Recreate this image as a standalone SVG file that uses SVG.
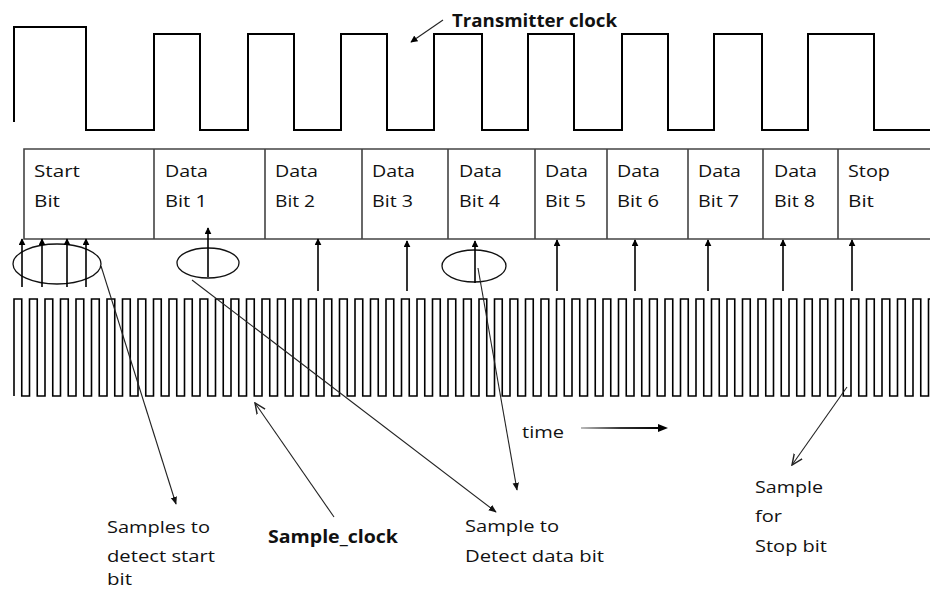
<svg xmlns="http://www.w3.org/2000/svg" width="930" height="591" viewBox="0 0 930 591">
<defs>
<style>
.wave{fill:none;stroke:#000;stroke-width:2;stroke-linejoin:miter}
.sclk{fill:none;stroke:#000;stroke-width:1.6}
.cell{fill:none;stroke:#444;stroke-width:1.6}
.t{font-family:"Open Sans","Liberation Sans",sans-serif;font-size:17px;fill:#111}
.b{font-weight:bold}
.up{stroke:#000;stroke-width:1.6;fill:none}
.ell{fill:none;stroke:#111;stroke-width:1.3}
.thin{stroke:#222;stroke-width:1.1;fill:none}
</style>
<marker id="fa" viewBox="0 0 10 10" refX="9" refY="5" markerWidth="7" markerHeight="7" markerUnits="userSpaceOnUse" orient="auto">
<path d="M0,0 L10,5 L0,10 z" fill="#000"/>
</marker>
<marker id="fs" viewBox="0 0 10 10" refX="9" refY="5" markerWidth="8" markerHeight="8" markerUnits="userSpaceOnUse" orient="auto">
<path d="M0,1 L10,5 L0,9 z" fill="#111"/>
</marker>
<marker id="oa" viewBox="0 0 10 10" refX="9" refY="5" markerWidth="12" markerHeight="12" markerUnits="userSpaceOnUse" orient="auto">
<path d="M0,1 L9,5 L0,9" fill="none" stroke="#222" stroke-width="1.2"/>
</marker>
<linearGradient id="tg" gradientUnits="userSpaceOnUse" x1="581" y1="0" x2="660" y2="0">
<stop offset="0" stop-color="#bbb"/>
<stop offset="0.5" stop-color="#333"/>
<stop offset="1" stop-color="#000"/>
</linearGradient>
</defs>
<rect width="930" height="591" fill="#fff"/>

<g id="transmitter-clock">
<path class="wave" d="M14,122 V27 H86 V130 H154 V34 H200 V130 H248 V34 H294 V130 H341 V34 H387 V130 H434 V34 H482 V130 H528 V34 H574 V130 H622 V34 H668 V130 H714 V34 H762 V130 H808 V34 H874 V130 H932"/>
<text class="t b" x="452" y="27" textLength="165" lengthAdjust="spacingAndGlyphs">Transmitter clock</text>
</g>

<g id="frame">
<path class="cell" d="M932,149 H24 V239 H932 M154,149 V239 M265,149 V239 M362,149 V239 M448,149 V239 M535,149 V239 M607,149 V239 M688,149 V239 M763,149 V239 M838,149 V239"/>
<g id="cell-start"><text class="t" x="34" y="177" textLength="46" lengthAdjust="spacingAndGlyphs">Start</text><text class="t" x="34" y="207" textLength="26" lengthAdjust="spacingAndGlyphs">Bit</text></g>
<g id="cell-d1"><text class="t" x="165" y="177" textLength="43" lengthAdjust="spacingAndGlyphs">Data</text><text class="t" x="165" y="207" textLength="42" lengthAdjust="spacingAndGlyphs">Bit 1</text></g>
<g id="cell-d2"><text class="t" x="275" y="177" textLength="43" lengthAdjust="spacingAndGlyphs">Data</text><text class="t" x="275" y="207" textLength="40" lengthAdjust="spacingAndGlyphs">Bit 2</text></g>
<g id="cell-d3"><text class="t" x="372" y="177" textLength="43" lengthAdjust="spacingAndGlyphs">Data</text><text class="t" x="372" y="207" textLength="41" lengthAdjust="spacingAndGlyphs">Bit 3</text></g>
<g id="cell-d4"><text class="t" x="459" y="177" textLength="43" lengthAdjust="spacingAndGlyphs">Data</text><text class="t" x="459" y="207" textLength="41" lengthAdjust="spacingAndGlyphs">Bit 4</text></g>
<g id="cell-d5"><text class="t" x="545" y="177" textLength="43" lengthAdjust="spacingAndGlyphs">Data</text><text class="t" x="545" y="207" textLength="41" lengthAdjust="spacingAndGlyphs">Bit 5</text></g>
<g id="cell-d6"><text class="t" x="617" y="177" textLength="43" lengthAdjust="spacingAndGlyphs">Data</text><text class="t" x="617" y="207" textLength="42" lengthAdjust="spacingAndGlyphs">Bit 6</text></g>
<g id="cell-d7"><text class="t" x="698" y="177" textLength="43" lengthAdjust="spacingAndGlyphs">Data</text><text class="t" x="698" y="207" textLength="41" lengthAdjust="spacingAndGlyphs">Bit 7</text></g>
<g id="cell-d8"><text class="t" x="774" y="177" textLength="43" lengthAdjust="spacingAndGlyphs">Data</text><text class="t" x="774" y="207" textLength="41" lengthAdjust="spacingAndGlyphs">Bit 8</text></g>
<g id="cell-stop"><text class="t" x="848" y="177" textLength="42" lengthAdjust="spacingAndGlyphs">Stop</text><text class="t" x="848" y="207" textLength="26" lengthAdjust="spacingAndGlyphs">Bit</text></g>
</g>

<g id="sample-clock">
<path class="sclk" d="M14,396
v-97h7.75v97h7.75 v-97h7.75v97h7.75 v-97h7.75v97h7.75 v-97h7.75v97h7.75 v-97h7.75v97h7.75 v-97h7.75v97h7.75 v-97h7.75v97h7.75 v-97h7.75v97h7.75 v-97h7.75v97h7.75 v-97h7.75v97h7.75
v-97h7.75v97h7.75 v-97h7.75v97h7.75 v-97h7.75v97h7.75 v-97h7.75v97h7.75 v-97h7.75v97h7.75 v-97h7.75v97h7.75 v-97h7.75v97h7.75 v-97h7.75v97h7.75 v-97h7.75v97h7.75 v-97h7.75v97h7.75
v-97h7.75v97h7.75 v-97h7.75v97h7.75 v-97h7.75v97h7.75 v-97h7.75v97h7.75 v-97h7.75v97h7.75 v-97h7.75v97h7.75 v-97h7.75v97h7.75 v-97h7.75v97h7.75 v-97h7.75v97h7.75 v-97h7.75v97h7.75
v-97h7.75v97h7.75 v-97h7.75v97h7.75 v-97h7.75v97h7.75 v-97h7.75v97h7.75 v-97h7.75v97h7.75 v-97h7.75v97h7.75 v-97h7.75v97h7.75 v-97h7.75v97h7.75 v-97h7.75v97h7.75 v-97h7.75v97h7.75
v-97h7.75v97h7.75 v-97h7.75v97h7.75 v-97h7.75v97h7.75 v-97h7.75v97h7.75 v-97h7.75v97h7.75 v-97h7.75v97h7.75 v-97h7.75v97h7.75 v-97h7.75v97h7.75 v-97h7.75v97h7.75 v-97h7.75v97h7.75
v-97h7.75v97h7.75 v-97h7.75v97h7.75 v-97h7.75v97h7.75 v-97h7.75v97h7.75 v-97h7.75v97h7.75 v-97h7.75v97h7.75 v-97h7.75v97h7.75 v-97h7.75v97h7.75 v-97h7.75v97h7.75 v-97h7.75v97h7.75"/>
</g>

<g id="ellipses">
<ellipse class="ell" cx="57" cy="264" rx="44" ry="20"/>
<ellipse class="ell" cx="208" cy="263" rx="31" ry="15"/>
<ellipse class="ell" cx="474" cy="266" rx="32" ry="16"/>
</g>

<g id="labels">
<text class="t" x="522" y="438" textLength="42" lengthAdjust="spacingAndGlyphs">time</text>
<g id="lbl-start"><text class="t" x="107" y="533" textLength="103" lengthAdjust="spacingAndGlyphs">Samples to</text><text class="t" x="107" y="562" textLength="108" lengthAdjust="spacingAndGlyphs">detect start</text><text class="t" x="107" y="585" textLength="25" lengthAdjust="spacingAndGlyphs">bit</text></g>
<text id="lbl-sampleclock" class="t b" x="268" y="543" textLength="130" lengthAdjust="spacingAndGlyphs">Sample_clock</text>
<g id="lbl-data"><text class="t" x="465" y="532" textLength="94" lengthAdjust="spacingAndGlyphs">Sample to</text><text class="t" x="465" y="562" textLength="139" lengthAdjust="spacingAndGlyphs">Detect data bit</text></g>
<g id="lbl-stop"><text class="t" x="755" y="493" textLength="68" lengthAdjust="spacingAndGlyphs">Sample</text><text class="t" x="755" y="522" textLength="27" lengthAdjust="spacingAndGlyphs">for</text><text class="t" x="755" y="552" textLength="72" lengthAdjust="spacingAndGlyphs">Stop bit</text></g>
</g>

<g id="connectors">
<line class="thin" x1="443" y1="20" x2="411" y2="42" marker-end="url(#fa)"/>
<line class="up" x1="22" y1="287" x2="22" y2="239" marker-end="url(#fa)"/>
<line class="up" x1="42" y1="287" x2="42" y2="239" marker-end="url(#fa)"/>
<line class="up" x1="67" y1="287" x2="67" y2="239" marker-end="url(#fa)"/>
<line class="up" x1="86" y1="287" x2="86" y2="239" marker-end="url(#fa)"/>
<line class="up" x1="208" y1="277" x2="208" y2="228" marker-end="url(#fa)"/>
<line class="up" x1="318" y1="291" x2="318" y2="239" marker-end="url(#fa)"/>
<line class="up" x1="407" y1="291" x2="407" y2="241" marker-end="url(#fa)"/>
<line class="up" x1="475" y1="283" x2="475" y2="241" marker-end="url(#fa)"/>
<line class="up" x1="557" y1="291" x2="557" y2="240" marker-end="url(#fa)"/>
<line class="up" x1="635" y1="291" x2="635" y2="240" marker-end="url(#fa)"/>
<line class="up" x1="708" y1="291" x2="708" y2="240" marker-end="url(#fa)"/>
<line class="up" x1="783" y1="291" x2="783" y2="240" stroke-width="2.4" marker-end="url(#fa)"/>
<line class="up" x1="852" y1="291" x2="852" y2="240" marker-end="url(#fa)"/>
<line class="thin" x1="101" y1="266" x2="176" y2="504" marker-end="url(#fs)"/>
<line class="thin" x1="334" y1="517" x2="255" y2="403" marker-end="url(#oa)"/>
<line class="thin" x1="192" y1="280" x2="496" y2="512" marker-end="url(#fs)"/>
<line class="thin" x1="478" y1="268" x2="517" y2="490" marker-end="url(#fs)"/>
<line class="thin" x1="847" y1="387" x2="792" y2="465" marker-end="url(#oa)"/>
<line x1="581" y1="428" x2="660" y2="428" stroke="url(#tg)" stroke-width="2.2"/>
<path d="M658,424 L668,428 L658,432 z" fill="#000"/>
</g>
</svg>
